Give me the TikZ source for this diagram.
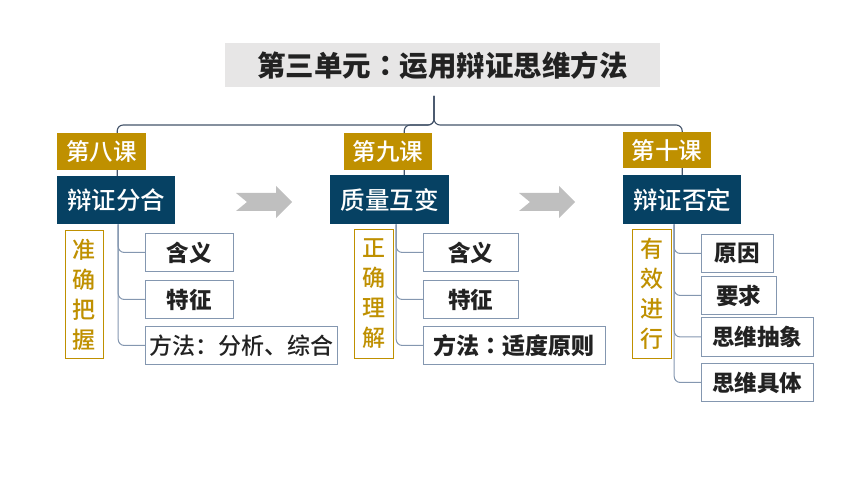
\documentclass[tikz,border=0pt]{standalone}
\usepackage{fontspec}
\setmainfont{Noto Sans CJK SC}
\newfontfamily\medfont{Noto Sans CJK SC}[UprightFont=* Medium]
\newfontfamily\tcfont{Noto Sans CJK TC}[UprightFont=* Bold]
\usetikzlibrary{backgrounds}
\definecolor{gold}{HTML}{BF9000}
\definecolor{navy}{HTML}{064163}
\definecolor{titlebg}{HTML}{E7E6E6}
\definecolor{topline}{HTML}{44546A}
\definecolor{brline}{HTML}{8497B0}
\definecolor{arrowgray}{HTML}{BFBFBF}
\definecolor{txt}{HTML}{222222}
\tikzset{
  titlebox/.style={fill=titlebg, draw=none, inner sep=0pt, anchor=north west, text=txt, font=\fontsize{28.5}{30}\selectfont\bfseries},
  lessonlabel/.style={fill=gold, draw=none, inner sep=0pt, anchor=north west, text=white, font=\fontsize{23.5}{26}\selectfont\medfont},
  topicbox/.style={fill=navy, draw=none, inner sep=0pt, anchor=north west, text=white, font=\fontsize{24.5}{26}\selectfont\medfont},
  subbox/.style={fill=white, draw=brline, line width=0.9pt, inner sep=0pt, anchor=north west, text=txt, font=\fontsize{22.5}{24}\selectfont\bfseries},
  subplain/.style={subbox, font=\fontsize{23}{24}\selectfont\medfont},
  goldvert/.style={fill=white, draw=gold, line width=0.9pt, inner sep=0pt, anchor=north west, text=gold, align=center, font=\fontsize{23}{30}\selectfont\medfont},
  topconn/.style={draw=topline, line width=1.1pt, rounded corners=6pt},
  brconn/.style={draw=brline, line width=1pt, rounded corners=6pt},
  chevron/.style={fill=arrowgray, draw=none}
}
\begin{document}
\begin{tikzpicture}[x=1pt,y=-1pt]
\useasboundingbox (0,0) rectangle (860,484);

% title
\node[titlebox, minimum width=435pt, minimum height=44pt] (title) at (225,43) {第三单元{\tcfont ：}运用辩证思维方法};
\coordinate (t0) at (434,96);
\coordinate (t1) at (434,125);

% lesson 8
\node[lessonlabel, minimum width=89pt, minimum height=37pt] (l1) at (57,133) {第八课};
\node[topicbox, minimum width=118pt, minimum height=48pt] (b1) at (57,176) {辩证分合};
\node[goldvert, minimum width=38pt, minimum height=128pt] (g1) at (65,230) {准\\确\\把\\握};
\node[subbox, minimum width=88pt, minimum height=38pt] (s11) at (145,233) {含义};
\node[subbox, minimum width=88pt, minimum height=38pt] (s12) at (145,280) {特征};
\node[subplain, minimum width=192pt, minimum height=38pt] (s13) at (145,326) {方法：分析、综合};

% lesson 9
\node[lessonlabel, minimum width=88pt, minimum height=37pt] (l2) at (344,133) {第九课};
\node[topicbox, minimum width=119pt, minimum height=49pt] (b2) at (330,175) {质量互变};
\node[goldvert, minimum width=39pt, minimum height=129pt] (g2) at (354,229) {正\\确\\理\\解};
\node[subbox, minimum width=95pt, minimum height=38pt] (s21) at (423,233) {含义};
\node[subbox, minimum width=95pt, minimum height=38pt] (s22) at (423,280) {特征};
\node[subbox, minimum width=182pt, minimum height=38pt, font=\fontsize{23}{24}\selectfont\bfseries] (s23) at (423,326) {方法{\tcfont ：}适度原则};

% lesson 10
\node[lessonlabel, minimum width=88pt, minimum height=36pt] (l3) at (623,132) {第十课};
\node[topicbox, minimum width=118pt, minimum height=49pt] (b3) at (623,175) {辩证否定};
\node[goldvert, minimum width=39pt, minimum height=129pt] (g3) at (632,229) {有\\效\\进\\行};
\node[subbox, minimum width=72pt, minimum height=38pt] (s31) at (701,234) {原因};
\node[subbox, minimum width=75pt, minimum height=38pt] (s32) at (701,276) {要求};
\node[subbox, minimum width=112pt, minimum height=39pt] (s33) at (701,317) {思维抽象};
\node[subbox, minimum width=112pt, minimum height=38pt] (s34) at (701,363) {思维具体};

% arrows
\fill[chevron] (236,193) -- (276,193) -- (276,186) -- (292,202) -- (276,218) -- (276,211) -- (236,211) -- (247,202) -- cycle;
\fill[chevron] (519,193) -- (559,193) -- (559,186) -- (575,202) -- (559,218) -- (559,211) -- (519,211) -- (530,202) -- cycle;

% connectors
\begin{scope}[on background layer]
\draw[topconn] (t0) -- (t1) -| ([xshift=1pt]b1.north);
\draw[topconn] (t0) -- (t1) -| ([xshift=14.5pt]b2.north);
\draw[topconn] (t0) -- (t1) -| (b3.north);
\draw[brconn] ([xshift=2pt]b1.south) |- (s11.west);
\draw[brconn] ([xshift=2pt]b1.south) |- (s12.west);
\draw[brconn] ([xshift=2pt]b1.south) |- (s13.west);
\draw[brconn] ([xshift=6.5pt]b2.south) |- (s21.west);
\draw[brconn] ([xshift=6.5pt]b2.south) |- (s22.west);
\draw[brconn] ([xshift=6.5pt]b2.south) |- (s23.west);
\draw[brconn] ([xshift=-8pt]b3.south) |- (s31.west);
\draw[brconn] ([xshift=-8pt]b3.south) |- (s32.west);
\draw[brconn] ([xshift=-8pt]b3.south) |- (s33.west);
\draw[brconn] ([xshift=-8pt]b3.south) |- (s34.west);
\end{scope}
\end{tikzpicture}
\end{document}
